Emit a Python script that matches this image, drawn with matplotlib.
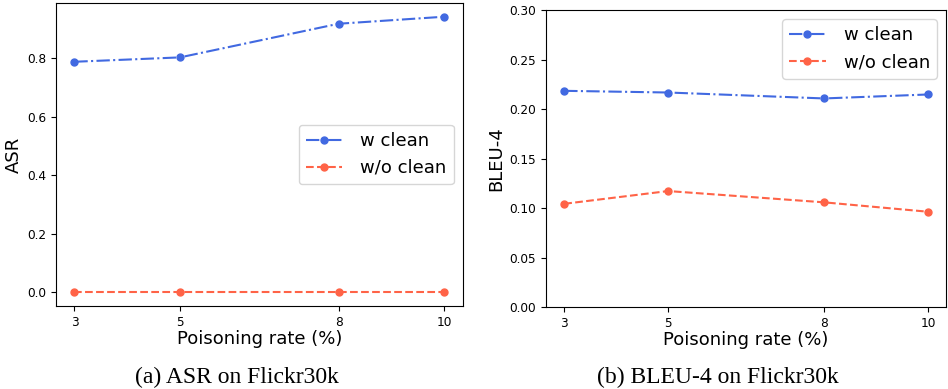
import matplotlib
matplotlib.use('Agg')
import matplotlib.pyplot as plt

# rates de poisoning (%)
rates = [3, 5, 8, 10]

# ASR sur Flickr30k
asr_w_clean = [0.788, 0.803, 0.918, 0.942]
asr_wo_clean = [0.0, 0.0, 0.0, 0.0]

# BLEU-4 sur Flickr30k
bleu_w_clean = [0.2185, 0.2168, 0.2108, 0.2148]
bleu_wo_clean = [0.1043, 0.1172, 0.1058, 0.0963]

labels = ["w clean", "w/o clean"]
captions = ["(a) ASR on Flickr30k", "(b) BLEU-4 on Flickr30k"]

blue = '#4169E1'
red = '#FF6347'

fig = plt.figure(figsize=(9.48, 3.89), dpi=100, facecolor='w')
ax1 = fig.add_axes([0.059, 0.2134, 0.429, 0.779])
ax2 = fig.add_axes([0.576, 0.2108, 0.422, 0.763])

ax1.plot(rates, asr_w_clean, '-.', color=blue, marker='o', ms=5, lw=1.5, label=labels[0])
ax1.plot(rates, asr_wo_clean, '--', color=red, marker='o', ms=5, lw=1.5, label=labels[1])
ax1.set_ylabel("ASR", fontsize=13, labelpad=3)
ax1.legend(loc="center right", fontsize=13, handletextpad=1.0)

ax2.plot(rates, bleu_w_clean, '-.', color=blue, marker='o', ms=5, lw=1.5, label=labels[0])
ax2.plot(rates, bleu_wo_clean, '--', color=red, marker='o', ms=5, lw=1.5, label=labels[1])
ax2.set_ylim(0, 0.3)
ax2.set_ylabel("BLEU-4", fontsize=13, labelpad=3)
ax2.legend(loc="upper right", fontsize=13, handletextpad=1.0)

for ax in (ax1, ax2):
    ax.set_xticks(rates)
    ax.set_xlabel("Poisoning rate (%)", fontsize=13, labelpad=1)
    ax.tick_params(labelsize=8.7)

fig.text(0.250, 0.030, captions[0], ha='center', va='center',
         family='Liberation Serif', fontsize=17)
fig.text(0.757, 0.030, captions[1], ha='center', va='center',
         family='Liberation Serif', fontsize=17)

fig.savefig("out.png", dpi=100)
